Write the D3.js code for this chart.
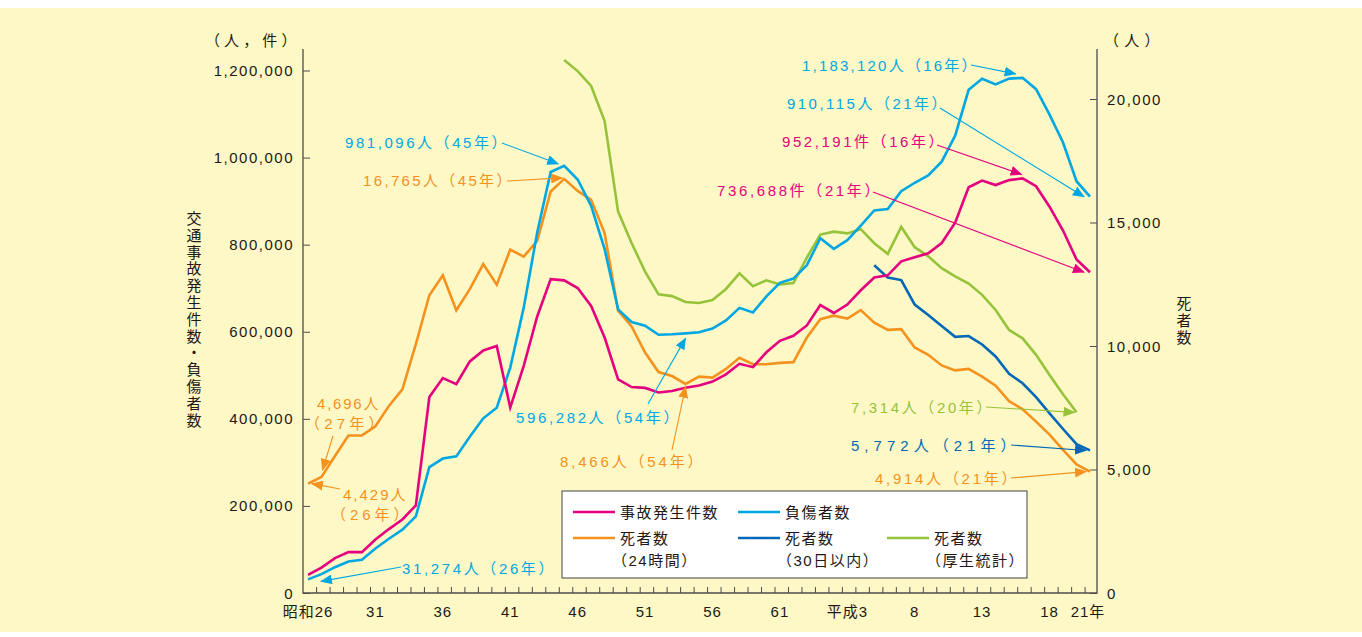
<!DOCTYPE html>
<html>
<head>
<meta charset="utf-8">
<script src="https://cdn.jsdelivr.net/npm/d3@7"></script>
<style>
  body { margin: 0; background: #fff; }
  text { font-family: "Liberation Sans", "Noto Sans CJK JP", sans-serif; font-size: 15px; letter-spacing: 1.5px; fill: #231815; }
</style>
</head>
<body>
<div id="chart"></div>
<script>
// years Showa 26 (1951) .. Heisei 21 (2009)
let years = d3.range(1951, 2010);

let accidents = [41423, 58487, 80019, 93869, 93981, 122691, 146833, 168799, 201292, 449917,
    493693, 479825, 531966, 557183, 567286, 425944, 521481, 635056, 720880, 718080,
    700290, 659283, 586713, 490452, 472938, 471041, 460649, 464037, 471573, 476677,
    485578, 502261, 526362, 518642, 552788, 579190, 590723, 614481, 661363, 643097,
    662392, 695345, 724675, 729461, 761794, 771085, 780399, 803878, 850363, 931934,
    947253, 936950, 948281, 952191, 934339, 887267, 832454, 766147, 736688];

let injured = [31274, 43321, 59280, 72390, 76501, 102072, 124530, 145432, 175951, 289156,
    308697, 313813, 359089, 401117, 425666, 517775, 655377, 828071, 967000, 981096,
    949689, 889198, 789948, 651420, 622467, 613957, 593211, 594116, 596282, 598719,
    607346, 626192, 654822, 644321, 681346, 712330, 722179, 752845, 814832, 790295,
    810245, 844003, 878633, 881723, 922677, 942204, 958925, 990675, 1050399, 1155707,
    1181039, 1168029, 1181431, 1183120, 1157113, 1098564, 1034652, 945703, 910115];

let deaths24 = [4429, 4696, 5544, 6374, 6379, 6751, 7575, 8248, 10079, 12055,
    12865, 11445, 12301, 13318, 12484, 13904, 13618, 14256, 16257, 16765,
    16278, 15918, 14574, 11432, 10792, 9734, 8945, 8783, 8466, 8760,
    8719, 9073, 9520, 9262, 9261, 9317, 9347, 10344, 11086, 11227,
    11109, 11452, 10945, 10653, 10684, 9943, 9642, 9214, 9012, 9073,
    8757, 8396, 7768, 7436, 6937, 6415, 5796, 5209, 4914];

// 30-day deaths, from 1993
let deaths30Start = 1993;
let deaths30 = [13269, 12768, 12670, 11674, 11254, 10805, 10372, 10403, 10060, 9575,
    8877, 8492, 7931, 7272, 6639, 6023, 5772];

// deaths, health ministry statistics, 1970..2008
let deathsVitalStart = 1970;
let deathsVital = [21580, 21130, 20530, 19110, 15440, 14170, 13010, 12090, 12020, 11780,
    11740, 11860, 12310, 12940, 12420, 12660, 12490, 12550, 13580, 14510,
    14630, 14560, 14730, 14160, 13730, 14820, 14000, 13630, 13150, 12820,
    12530, 12070, 11460, 10650, 10310, 9640, 8830, 8050, 7314];

let leftTicks = [0, 200000, 400000, 600000, 800000, 1000000, 1200000];
let rightTicks = [0, 5000, 10000, 15000, 20000];
let xLabelYears = [1951, 1956, 1961, 1966, 1971, 1976, 1981, 1986, 1991, 1996, 2001, 2006, 2009];
let xLabelTexts = ["昭和26", "31", "36", "41", "46", "51", "56", "61", "平成3", "8", "13", "18", "21年"];

let COLORS = {
    accidents: "#e5007f",
    injured: "#00a7e3",
    deaths24: "#f5921e",
    deaths30: "#0068b6",
    vital: "#97c33b"
};

let W = 1362, H = 637;
let svg = d3.select("#chart").append("svg").attr("width", W).attr("height", H);

svg.append("rect").attr("x", 0).attr("y", 8).attr("width", W).attr("height", 624).attr("fill", "#fdf8c6");

let x = d3.scaleLinear().domain([1951, 2009]).range([308, 1090]);
let yL = d3.scaleLinear().domain([0, 1200000]).range([593, 70.5]);
let yR = d3.scaleLinear().domain([0, 20000]).range([593, 99]);

let axisLeftX = 303, axisRightX = 1097, axisTop = 49, axisBottom = 593;

// axes
let leftAxis = svg.append("g")
    .attr("transform", "translate(" + axisLeftX + ",0)")
    .call(d3.axisRight(yL).tickValues(leftTicks).tickSize(7).tickFormat(""));
let rightAxis = svg.append("g")
    .attr("transform", "translate(" + axisRightX + ",0)")
    .call(d3.axisLeft(yR).tickValues(rightTicks).tickSize(7).tickFormat(""));
let bottomTicks = years.slice(0, years.length - 1).map(function(y){ return y + 0.6; });
let bottomAxis = svg.append("g")
    .attr("transform", "translate(0," + axisBottom + ")")
    .call(d3.axisTop(x).tickValues(bottomTicks).tickSize(6).tickFormat(""));

[leftAxis, rightAxis, bottomAxis].forEach(function(g){
    g.select(".domain").remove();
    g.selectAll("line").attr("stroke", "#4d4d4d").attr("stroke-width", 1);
});

svg.append("path")
    .attr("d", "M" + axisLeftX + "," + axisTop + "V" + axisBottom + "H" + axisRightX + "V" + axisTop)
    .attr("fill", "none").attr("stroke", "#4d4d4d").attr("stroke-width", 1.3);

svg.append("g").selectAll("text").data(leftTicks).enter().append("text")
    .attr("x", 294).attr("y", function(d){ return yL(d) + 5.5; })
    .attr("text-anchor", "end")
    .text(function(d){ return d3.format(",")(d); });

svg.append("g").selectAll("text").data(rightTicks).enter().append("text")
    .attr("x", 1107).attr("y", function(d){ return yR(d) + 5.5; })
    .text(function(d){ return d3.format(",")(d); });

svg.append("g").selectAll("text").data(xLabelYears).enter().append("text")
    .attr("x", function(d){ return x(d) + (d === 2009 ? -2 : 0); })
    .attr("y", 617)
    .attr("text-anchor", "middle")
    .style("letter-spacing", "1px")
    .text(function(d, i){ return xLabelTexts[i]; });

// unit labels
svg.append("text").attr("x", 205).attr("y", 46).attr("textLength", 93).text("（人，件）");
svg.append("text").attr("x", 1104).attr("y", 46).attr("textLength", 57).text("（人）");

// vertical axis titles
function verticalText(str, cx, top){
    svg.append("g").selectAll("text").data(Array.from(str)).enter().append("text")
        .attr("x", cx).attr("y", function(d, i){ return top + i * 16.8; })
        .attr("text-anchor", "middle")
        .style("letter-spacing", "0px")
        .text(function(d){ return d; });
}
verticalText("交通事故発生件数・負傷者数", 194, 224);
verticalText("死者数", 1184, 309);

// data lines
function series(values, start){
    return values.map(function(v, i){ return [start + i, v]; });
}
let lineL = d3.line().x(function(d){ return x(d[0]); }).y(function(d){ return yL(d[1]); });
let lineR = d3.line().x(function(d){ return x(d[0]); }).y(function(d){ return yR(d[1]); });

let lines = [
    {key: "vital", d: lineR(series(deathsVital, deathsVitalStart))},
    {key: "deaths30", d: lineR(series(deaths30, deaths30Start))},
    {key: "deaths24", d: lineR(series(deaths24, 1951))},
    {key: "injured", d: lineL(series(injured, 1951))},
    {key: "accidents", d: lineL(series(accidents, 1951))}
];
svg.append("g").selectAll("path").data(lines).enter().append("path")
    .attr("d", function(d){ return d.d; })
    .attr("fill", "none")
    .attr("stroke", function(d){ return COLORS[d.key]; })
    .attr("stroke-width", 2.6)
    .attr("stroke-linejoin", "miter");

// arrow markers
let defs = svg.append("defs");
Object.keys(COLORS).forEach(function(k){
    defs.append("marker")
        .attr("id", "arrow-" + k)
        .attr("viewBox", "0 0 12 10")
        .attr("refX", 11).attr("refY", 5)
        .attr("markerWidth", 12).attr("markerHeight", 10)
        .attr("markerUnits", "userSpaceOnUse")
        .attr("orient", "auto")
        .append("path").attr("d", "M0,0L12,5L0,10Z").attr("fill", COLORS[k]);
});

// annotations: label lines (with visible widths), text position, arrow tail, target point and tip offset
let annotations = [
    {key: "injured", lines: ["981,096人（45年）"], widths: [155], tx: 345, ty: 148, tail: [502, 143], year: 1970, axis: "L", value: injured[19], off: [-6, -2]},
    {key: "deaths24", lines: ["16,765人（45年）"], widths: [142], tx: 363, ty: 186, tail: [507, 181], year: 1970, axis: "R", value: deaths24[19], off: [-2, -1]},
    {key: "injured", lines: ["1,183,120人（16年）"], widths: [168], tx: 802, ty: 71, tail: [971, 65], year: 2004, axis: "L", value: injured[53], off: [-7, -4]},
    {key: "injured", lines: ["910,115人（21年）"], widths: [153], tx: 787, ty: 109, tail: [940, 108], year: 2009, axis: "L", value: injured[58], off: [-6, 0]},
    {key: "accidents", lines: ["952,191件（16年）"], widths: [155], tx: 782, ty: 147, tail: [937, 145], year: 2004, axis: "L", value: accidents[53], off: [-1, -4]},
    {key: "accidents", lines: ["736,688件（21年）"], widths: [156], tx: 717, ty: 196, tail: [873, 192], year: 2009, axis: "L", value: accidents[58], off: [-6, 0]},
    {key: "deaths24", lines: ["4,696人", "（27年）"], widths: [63, 64], tx: [317, 313], ty: 409, tail: [333, 436], year: 1952, axis: "R", value: deaths24[1], off: [1, -7]},
    {key: "deaths24", lines: ["4,429人", "（26年）"], widths: [64, 63], tx: [343, 339], ty: 500, tail: [340, 489], year: 1951, axis: "R", value: deaths24[0], off: [4, 0]},
    {key: "injured", lines: ["31,274人（26年）"], widths: [145], tx: 402, ty: 574, tail: [401, 567], year: 1951, axis: "L", value: injured[0], off: [13, 2]},
    {key: "injured", lines: ["596,282人（54年）"], widths: [156], tx: 516, ty: 423, tail: [648, 404], year: 1979, axis: "L", value: injured[28], off: [0, 5]},
    {key: "deaths24", lines: ["8,466人（54年）"], widths: [136], tx: 560, ty: 467, tail: [672, 450], year: 1979, axis: "R", value: deaths24[28], off: [0, 3]},
    {key: "vital", lines: ["7,314人（20年）"], widths: [134], tx: 851, ty: 413, tail: [986, 407], year: 2008, axis: "R", value: deathsVital[38], off: [-2, 0]},
    {key: "deaths30", lines: ["5,772人（21年）"], widths: [158], tx: 851, ty: 451, tail: [1011, 445], year: 2009, axis: "R", value: deaths30[16], off: [-4, 0]},
    {key: "deaths24", lines: ["4,914人（21年）"], widths: [135], tx: 875, ty: 484, tail: [1011, 478], year: 2009, axis: "R", value: deaths24[58], off: [-4, 0]}
];

// full-width parentheses carry blank space inside their em box
let PAREN_PAD = 8;

let ann = svg.append("g").selectAll("g").data(annotations).enter().append("g");
ann.append("line")
    .attr("x1", function(d){ return d.tail[0]; })
    .attr("y1", function(d){ return d.tail[1]; })
    .attr("x2", function(d){ return x(d.year) + d.off[0]; })
    .attr("y2", function(d){ return (d.axis === "L" ? yL(d.value) : yR(d.value)) + d.off[1]; })
    .attr("stroke", function(d){ return COLORS[d.key]; })
    .attr("stroke-width", 1.1)
    .attr("marker-end", function(d){ return "url(#arrow-" + d.key + ")"; });
ann.each(function(d){
    let g = d3.select(this);
    d.lines.forEach(function(t, i){
        let tx = Array.isArray(d.tx) ? d.tx[i] : d.tx;
        let w = d.widths[i];
        if(t.charAt(0) === "（"){ tx -= PAREN_PAD; w += PAREN_PAD; }
        if(t.charAt(t.length - 1) === "）"){ w += PAREN_PAD; }
        g.append("text")
            .attr("x", tx)
            .attr("y", d.ty + i * 20)
            .attr("textLength", w)
            .attr("lengthAdjust", "spacing")
            .style("fill", COLORS[d.key])
            .text(t);
    });
});

// legend
let legend = svg.append("g");
legend.append("rect").attr("x", 562).attr("y", 491).attr("width", 465).attr("height", 87)
    .attr("fill", "#fff").attr("stroke", "#444").attr("stroke-width", 1);
let legendItems = [
    {key: "accidents", label: ["事故発生件数"], lx: 573, ly: 512},
    {key: "injured", label: ["負傷者数"], lx: 738, ly: 512},
    {key: "deaths24", label: ["死者数", "（24時間）"], lx: 573, ly: 538},
    {key: "deaths30", label: ["死者数", "（30日以内）"], lx: 738, ly: 538},
    {key: "vital", label: ["死者数", "（厚生統計）"], lx: 887, ly: 538}
];
let li = legend.selectAll("g.item").data(legendItems).enter().append("g").attr("class", "item");
li.append("line")
    .attr("x1", function(d){ return d.lx; }).attr("x2", function(d){ return d.lx + 42; })
    .attr("y1", function(d){ return d.ly; }).attr("y2", function(d){ return d.ly; })
    .attr("stroke", function(d){ return COLORS[d.key]; }).attr("stroke-width", 2.4);
li.each(function(d){
    let g = d3.select(this);
    d.label.forEach(function(t, i){
        g.append("text")
            .attr("x", d.lx + 47 - (i > 0 ? 8 : 0))
            .attr("y", d.ly + 5.5 + i * 22)
            .text(t);
    });
});
</script>
</body>
</html>
